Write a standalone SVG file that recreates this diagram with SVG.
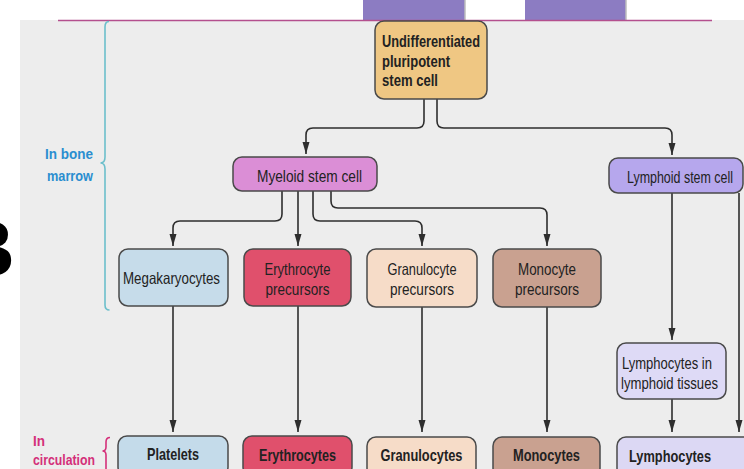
<svg xmlns="http://www.w3.org/2000/svg" width="744" height="469" viewBox="0 0 744 469">
  <style>
    .box { stroke: #4a4a4a; stroke-width: 1.5; }
    .lbl { font-family: "Liberation Sans", Arial, sans-serif; font-size: 16.5px; fill: #222; }
    .bold { font-weight: bold; font-size: 17px; }
    .wire { fill: none; stroke: #2e2e2e; stroke-width: 1.6; marker-end: url(#arrow); }
    .brace { fill: none; stroke: #6cbfcb; stroke-width: 1.6; }
    .side { font-family: "Liberation Sans", Arial, sans-serif; font-size: 15.5px; font-weight: bold; }
  </style>
  <defs>
    <marker id="arrow" markerUnits="userSpaceOnUse" markerWidth="12" markerHeight="8" refX="12" refY="4" orient="auto">
      <path d="M0,0.5 L12,4 L0,7.5 z" fill="#2e2e2e"/>
    </marker>
  </defs>

  <!-- page -->
  <rect x="0" y="0" width="744" height="469" fill="#ffffff"/>
  <rect x="20" y="20" width="724" height="449" fill="#ededed"/>
  <rect x="363" y="0" width="102" height="20" fill="#8c7cc2"/>
  <line x1="465" y1="0" x2="465" y2="20" stroke="#bdbdbd" stroke-width="1.5"/>
  <rect x="525" y="0" width="101" height="20" fill="#8c7cc2"/>
  <line x1="626" y1="0" x2="626" y2="20" stroke="#bdbdbd" stroke-width="1.5"/>
  <line x1="58" y1="20.5" x2="712" y2="20.5" stroke="#b44f8e" stroke-width="1.5"/>
  <text x="-43" y="276" font-family="Liberation Sans, Arial, sans-serif" font-size="80" font-weight="bold" fill="#000">B</text>

  <!-- side labels -->
  <g id="bone-marrow">
    <path class="brace" d="M109,21.5 Q105,21.5 105,27 L105,157 Q105,163 100.5,163 Q105,163 105,169 L105,305 Q105,310 109.5,310"/>
    <text class="side" fill="#2a8ed0" x="45" y="159" textLength="48" lengthAdjust="spacingAndGlyphs">In bone</text>
    <text class="side" fill="#2a8ed0" x="47" y="181" textLength="46" lengthAdjust="spacingAndGlyphs">marrow</text>
  </g>
  <g id="circulation">
    <path class="brace" style="stroke:#d4307a" d="M110,437.5 Q106,437.5 106,442 L106,447 Q106,451 102.5,451 Q106,451 106,455 L106,470"/>
    <text class="side" fill="#d4307a" x="33" y="446" textLength="12" lengthAdjust="spacingAndGlyphs">In</text>
    <text class="side" fill="#d4307a" x="33" y="465" textLength="62" lengthAdjust="spacingAndGlyphs">circulation</text>
  </g>

  <!-- connectors -->
  <g id="connectors">
    <path class="wire" d="M424,99 L424,121 Q424,128 417,128 L313,128 Q306,128 306,135 L306,154"/>
    <path class="wire" d="M437,99 L437,121 Q437,128 444,128 L665,128 Q672,128 672,135 L672,155"/>
    <path class="wire" d="M282,191 L282,214 Q282,221 275,221 L180,221 Q173,221 173,228 L173,246"/>
    <path class="wire" d="M298,191 L298,246"/>
    <path class="wire" d="M313,191 L313,214 Q313,221 320,221 L415,221 Q422,221 422,228 L422,246"/>
    <path class="wire" d="M331,191 L331,201 Q331,208 338,208 L540,208 Q547,208 547,215 L547,246"/>
    <path class="wire" d="M173,306 L173,432"/>
    <path class="wire" d="M298,306 L298,432"/>
    <path class="wire" d="M422,307 L422,432"/>
    <path class="wire" d="M547,307 L547,432"/>
    <path class="wire" d="M672,193 L672,340"/>
    <path class="wire" d="M739,193 L739,432"/>
    <path class="wire" d="M672,399 L672,432"/>
  </g>

  <!-- nodes -->
  <g id="stem-cell">
    <rect class="box" x="375" y="21" width="112" height="78" rx="9" fill="#efc783"/>
    <text class="lbl bold" x="382" y="47" textLength="98" lengthAdjust="spacingAndGlyphs">Undifferentiated</text>
    <text class="lbl bold" x="382" y="66.5" textLength="68" lengthAdjust="spacingAndGlyphs">pluripotent</text>
    <text class="lbl bold" x="382" y="86" textLength="56" lengthAdjust="spacingAndGlyphs">stem cell</text>
  </g>
  <g id="myeloid">
    <rect class="box" x="233" y="157" width="144" height="34" rx="9" fill="#db8ed6"/>
    <text class="lbl" x="257" y="182" textLength="105" lengthAdjust="spacingAndGlyphs">Myeloid stem cell</text>
  </g>
  <g id="lymphoid">
    <rect class="box" x="609" y="158" width="134" height="35" rx="9" fill="#b6a7ed"/>
    <text class="lbl" x="627" y="183" textLength="106" lengthAdjust="spacingAndGlyphs">Lymphoid stem cell</text>
  </g>
  <g id="megakaryocytes">
    <rect class="box" x="119" y="249" width="109" height="57" rx="9" fill="#c6dcea"/>
    <text class="lbl" x="123" y="284" textLength="97" lengthAdjust="spacingAndGlyphs">Megakaryocytes</text>
  </g>
  <g id="erythrocyte-precursors">
    <rect class="box" x="244" y="249" width="107" height="57" rx="9" fill="#e0506c"/>
    <text class="lbl" x="297.5" y="275" text-anchor="middle" textLength="66" lengthAdjust="spacingAndGlyphs">Erythrocyte</text>
    <text class="lbl" x="297.5" y="295" text-anchor="middle" textLength="64" lengthAdjust="spacingAndGlyphs">precursors</text>
  </g>
  <g id="granulocyte-precursors">
    <rect class="box" x="367" y="249" width="110" height="58" rx="9" fill="#f6dcc8"/>
    <text class="lbl" x="422" y="275" text-anchor="middle" textLength="69" lengthAdjust="spacingAndGlyphs">Granulocyte</text>
    <text class="lbl" x="422" y="295" text-anchor="middle" textLength="64" lengthAdjust="spacingAndGlyphs">precursors</text>
  </g>
  <g id="monocyte-precursors">
    <rect class="box" x="493" y="249" width="108" height="58" rx="9" fill="#c9a190"/>
    <text class="lbl" x="547" y="275" text-anchor="middle" textLength="58" lengthAdjust="spacingAndGlyphs">Monocyte</text>
    <text class="lbl" x="547" y="295" text-anchor="middle" textLength="64" lengthAdjust="spacingAndGlyphs">precursors</text>
  </g>
  <g id="lymphoid-tissues">
    <rect class="box" x="617" y="343" width="109" height="56" rx="9" fill="#dedaf6"/>
    <text class="lbl" x="622" y="369" textLength="90" lengthAdjust="spacingAndGlyphs">Lymphocytes in</text>
    <text class="lbl" x="621" y="389" textLength="97" lengthAdjust="spacingAndGlyphs">lymphoid tissues</text>
  </g>
  <g id="platelets">
    <rect class="box" x="118" y="436" width="110" height="40" rx="9" fill="#c4dbea"/>
    <text class="lbl bold" x="173" y="460" text-anchor="middle" textLength="52" lengthAdjust="spacingAndGlyphs">Platelets</text>
  </g>
  <g id="erythrocytes">
    <rect class="box" x="243" y="436" width="109" height="40" rx="9" fill="#e0506c"/>
    <text class="lbl bold" x="297.5" y="461" text-anchor="middle" textLength="77" lengthAdjust="spacingAndGlyphs">Erythrocytes</text>
  </g>
  <g id="granulocytes">
    <rect class="box" x="367" y="437" width="109" height="40" rx="9" fill="#f6dcc8"/>
    <text class="lbl bold" x="421.5" y="461" text-anchor="middle" textLength="82" lengthAdjust="spacingAndGlyphs">Granulocytes</text>
  </g>
  <g id="monocytes">
    <rect class="box" x="493" y="437" width="107" height="40" rx="9" fill="#c9a190"/>
    <text class="lbl bold" x="546.5" y="461" text-anchor="middle" textLength="67" lengthAdjust="spacingAndGlyphs">Monocytes</text>
  </g>
  <g id="lymphocytes">
    <rect class="box" x="617" y="437" width="140" height="40" rx="9" fill="#dcd8f4"/>
    <text class="lbl bold" x="629" y="462" textLength="82" lengthAdjust="spacingAndGlyphs">Lymphocytes</text>
  </g>
</svg>
